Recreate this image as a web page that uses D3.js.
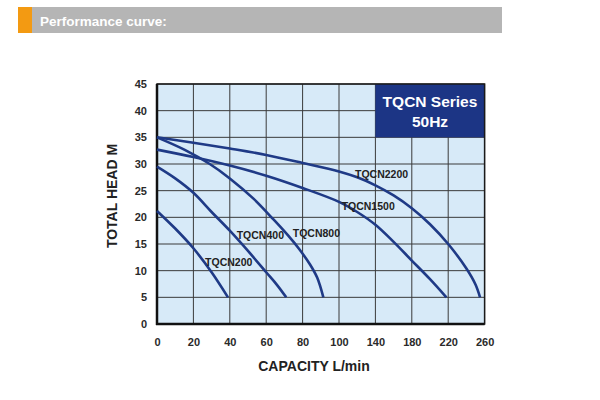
<!DOCTYPE html>
<html><head><meta charset="utf-8">
<script src="https://cdn.jsdelivr.net/npm/d3@7"></script>
<style>body{margin:0;background:#fff;} svg{display:block;}</style>
</head><body>
<svg id="c" width="600" height="400"></svg>
<script>
const title = "Performance curve:";
const xTicks = [0,20,40,60,80,100,140,180,220,260];
const yTicks = [0,5,10,15,20,25,30,35,40,45];
const xTitle = "CAPACITY L/min";
const yTitle = "TOTAL HEAD M";
const legendLines = ["TQCN Series","50Hz"];
const seriesNames = ["TQCN200","TQCN400","TQCN800","TQCN1500","TQCN2200"];
const tqcn200 = [[0,21.2],[10,17.9],[20,14.2],[30,9.7],[39,5]];
const tqcn400 = [[0,29.5],[10,27.3],[20,24.6],[30,21],[40,17.5],[50,13.7],[60,9.7],[66,7.3],[71,5]];
const tqcn800 = [[0,35],[15,32.7],[29,30],[40,27.3],[53,23.5],[64,19.6],[72,16.6],[78,14.1],[84,11.2],[88,8.7],[91.4,5]];
const tqcn1500 = [[0,32.7],[20,31.3],[40,29.7],[60,27.8],[80,25.5],[100,22.9],[120,21.0],[140,18.6],[160,15.4],[180,11.9],[200,8.4],[218,5]];
const tqcn2200 = [[0,35],[20,34],[40,32.9],[60,31.7],[80,30.2],[100,28.6],[120,27.5],[140,26.0],[160,24.1],[180,21.7],[200,18.7],[220,15.0],[240,10.4],[250,7.4],[255,5]];
const labelAnchors = [[26.4,10.9],[43.8,16],[74.6,16.3],[102.9,21.4],[117.6,27.4]];
const seriesData = [tqcn200, tqcn400, tqcn800, tqcn1500, tqcn2200];

const svg = d3.select("#c");
// header bar
svg.append("rect").attr("x",18).attr("y",7).attr("width",484).attr("height",26).attr("fill","#b5b5b5");
svg.append("rect").attr("x",18).attr("y",7).attr("width",14).attr("height",26).attr("fill","#f39a12");
svg.append("text").attr("x",40).attr("y",26).text(title)
  .attr("font-family","Liberation Sans, Arial, sans-serif").attr("font-weight","bold")
  .attr("font-size",13.5).attr("fill","#fff");

const L=157, R=157+9*36.4, T=84, B=324;
const x = d3.scaleLinear().domain([0,100,260]).range([L, L+5*36.4, R]);
const y = d3.scaleLinear().domain([0,45]).range([B,T]);

svg.append("rect").attr("x",L).attr("y",T).attr("width",R-L).attr("height",B-T).attr("fill","#d7eaf8");

// grid
const g = svg.append("g");
g.selectAll(".vg").data(xTicks).join("line")
  .attr("x1",d=>x(d)).attr("x2",d=>x(d)).attr("y1",T).attr("y2",B)
  .attr("stroke","#3a3a3a").attr("stroke-width",1);
g.selectAll(".hg").data(yTicks).join("line")
  .attr("x1",L).attr("x2",R).attr("y1",d=>y(d)).attr("y2",d=>y(d))
  .attr("stroke","#3a3a3a").attr("stroke-width",1);

// legend box
svg.append("rect").attr("x",x(140)).attr("y",y(45)).attr("width",x(260)-x(140)).attr("height",y(35)-y(45)).attr("fill","#1c3585");
svg.selectAll(".lg").data(legendLines).join("text")
  .attr("x",(x(140)+x(260))/2).attr("y",(d,i)=>107+i*20).attr("text-anchor","middle")
  .attr("font-family","Liberation Sans, Arial, sans-serif").attr("font-weight","bold")
  .attr("font-size",15.5).attr("fill","#fff").text(d=>d);

// frame
svg.append("rect").attr("x",L).attr("y",T).attr("width",R-L).attr("height",B-T).attr("fill","none").attr("stroke","#1a1a1a").attr("stroke-width",1.5);
svg.append("line").attr("x1",L).attr("x2",L).attr("y1",T).attr("y2",B+1).attr("stroke","#111").attr("stroke-width",2.5);
svg.append("line").attr("x1",L-1).attr("x2",R).attr("y1",B).attr("y2",B).attr("stroke","#111").attr("stroke-width",2.5);

// curves
const line = d3.line().x(d=>x(d[0])).y(d=>y(d[1])).curve(d3.curveCatmullRom.alpha(0.5));
svg.selectAll(".curve").data(seriesData).join("path")
  .attr("d",line).attr("fill","none").attr("stroke","#1f3a86").attr("stroke-width",2.6);

// curve labels
svg.selectAll(".cl").data(seriesNames).join("text")
  .attr("x",(d,i)=>x(labelAnchors[i][0])).attr("y",(d,i)=>y(labelAnchors[i][1]))
  .attr("font-family","Liberation Sans, Arial, sans-serif").attr("font-weight","bold")
  .attr("font-size",10.5).attr("fill","#222").text(d=>d);

// axes
const xa = svg.append("g").attr("transform",`translate(0,${B})`)
  .call(d3.axisBottom(x).tickValues(xTicks).tickSize(0).tickPadding(14).tickFormat(d3.format("d")));
xa.select(".domain").remove();
const ya = svg.append("g").attr("transform",`translate(${L},0)`)
  .call(d3.axisLeft(y).tickValues(yTicks).tickSize(0).tickPadding(10).tickFormat(d3.format("d")));
ya.select(".domain").remove();
svg.selectAll(".tick text").attr("font-family","Liberation Sans, Arial, sans-serif")
  .attr("font-weight","bold").attr("font-size",11).attr("fill","#2a2a2a");

svg.append("text").attr("x",314).attr("y",371).attr("text-anchor","middle")
  .attr("font-family","Liberation Sans, Arial, sans-serif").attr("font-weight","bold")
  .attr("font-size",14).attr("fill","#222").text(xTitle);
svg.append("text").attr("transform","translate(117,196) rotate(-90)").attr("text-anchor","middle")
  .attr("font-family","Liberation Sans, Arial, sans-serif").attr("font-weight","bold")
  .attr("font-size",14).attr("fill","#222").text(yTitle);
</script>
</body></html>
